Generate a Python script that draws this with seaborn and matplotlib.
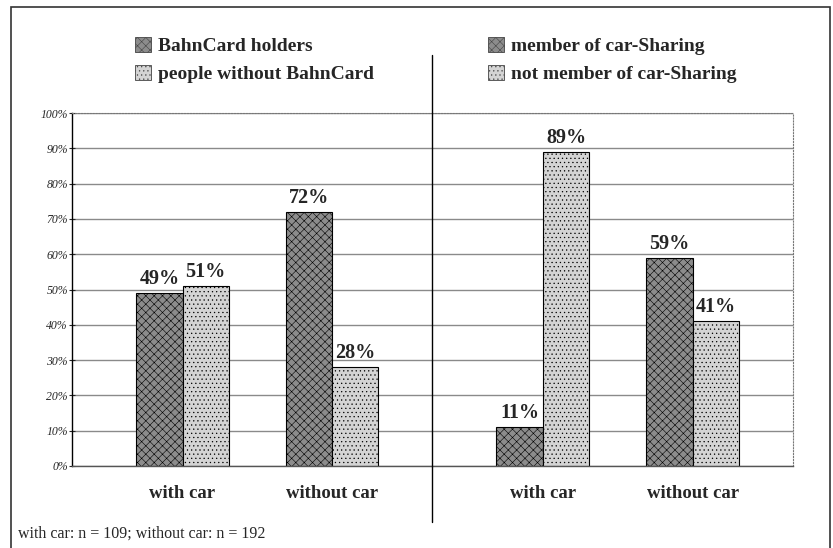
import matplotlib.pyplot as plt
import seaborn as sns
import pandas as pd
from matplotlib.lines import Line2D
from matplotlib.patches import Rectangle

# values
categories = ['with car', 'without car']
bahncard_holders = [49, 72]
without_bahncard = [51, 28]
carsharing_member = [11, 59]
not_carsharing_member = [89, 41]
yticks = list(range(0, 101, 10))

dark = '#8c8c8c'
light = '#d4d4d4'

sns.set_style('white')
plt.rcParams['font.family'] = ['Liberation Serif', 'DejaVu Serif']
plt.rcParams['hatch.color'] = '#666666'
plt.rcParams['hatch.linewidth'] = 0.4

W, H = 833, 548
y0, y100 = 466, 113  # pixel rows of 0% and 100%
fig = plt.figure(figsize=(W / 100, H / 100), dpi=100)
ax_left = fig.add_axes([72 / W, 1 - y0 / H, 360 / W, (y0 - y100) / H])
ax_right = fig.add_axes([432 / W, 1 - y0 / H, 361 / W, (y0 - y100) / H])


def draw_panel(ax, first, second, labels, show_y, leg_x):
    df = pd.DataFrame({
        'car': categories * 2,
        'share': first + second,
        'group': [labels[0]] * 2 + [labels[1]] * 2,
    })
    sns.barplot(data=df, x='car', y='share', hue='group', palette=[dark, light],
                width=0.62, edgecolor='black', linewidth=0.8, saturation=1,
                legend=False, ax=ax)
    hatches = ['xxxx', '....']
    for cont, h in zip(ax.containers, hatches):
        for bar in cont:
            bar.set_hatch(h)
        ax.bar_label(cont, fmt='%d%%', padding=3, fontsize=14.5, fontweight='bold')

    ax.set_ylim(0, 100)
    ax.set_xlim(-0.74, 1.67)
    ax.set_yticks(yticks)
    ax.set_axisbelow(True)
    ax.yaxis.grid(True, color='#8a8a8a', linewidth=1)
    ax.set_xlabel('')
    ax.set_ylabel('')
    ax.set_xticks([0, 1])
    ax.set_xticklabels(categories, fontsize=13.5, fontweight='bold')
    ax.tick_params(axis='x', length=0, pad=14)

    for s in ['top', 'right']:
        ax.spines[s].set_linestyle(':')
        ax.spines[s].set_color('#777777')
        ax.spines[s].set_linewidth(0.8)
    ax.spines['bottom'].set_color('#555555')
    ax.spines['bottom'].set_linewidth(1)
    if show_y:
        ax.spines['right'].set_visible(False)
        ax.spines['left'].set_color('black')
        ax.spines['left'].set_linewidth(1)
        ax.set_yticklabels([f'{t}%' for t in yticks], fontsize=8.5, fontstyle='italic')
        ax.tick_params(axis='y', length=4, direction='inout', pad=1, left=True)
    else:
        ax.spines['left'].set_visible(False)
        ax.set_yticklabels([])
        ax.tick_params(axis='y', length=0)

    handles = [Rectangle((0, 0), 1, 1, facecolor=dark, edgecolor='#444444', hatch='xxxx', linewidth=0.6),
               Rectangle((0, 0), 1, 1, facecolor=light, edgecolor='#444444', hatch='....', linewidth=0.6)]
    ax.legend(handles, labels, loc='upper left', bbox_to_anchor=(leg_x, (y0 - 37) / (y0 - y100)),
              frameon=False, borderaxespad=0, borderpad=0,
              handlelength=0.8, handleheight=0.8, handletextpad=0.4, labelspacing=0.5,
              prop={'weight': 'bold', 'size': 14})


draw_panel(ax_left, bahncard_holders, without_bahncard,
           ['BahnCard holders', 'people without BahnCard'], True, 0.175)
draw_panel(ax_right, carsharing_member, not_carsharing_member,
           ['member of car-Sharing', 'not member of car-Sharing'], False, 0.155)

# divider between the two halves and outer frame
fig.add_artist(Line2D([432 / W, 432 / W], [1 - 55 / H, 1 - 522 / H],
                      color='black', linewidth=1, transform=fig.transFigure))
fig.add_artist(Rectangle((11 / W, -0.02), 819 / W, 1 - 7 / H + 0.02, fill=False,
                         edgecolor='#333333', linewidth=1.2, transform=fig.transFigure))

fig.text(18 / W, 1 - 534 / H, 'with car: n = 109; without car: n = 192',
         fontsize=11.5, va='center', ha='left')

fig.savefig('out.png', dpi=100)
